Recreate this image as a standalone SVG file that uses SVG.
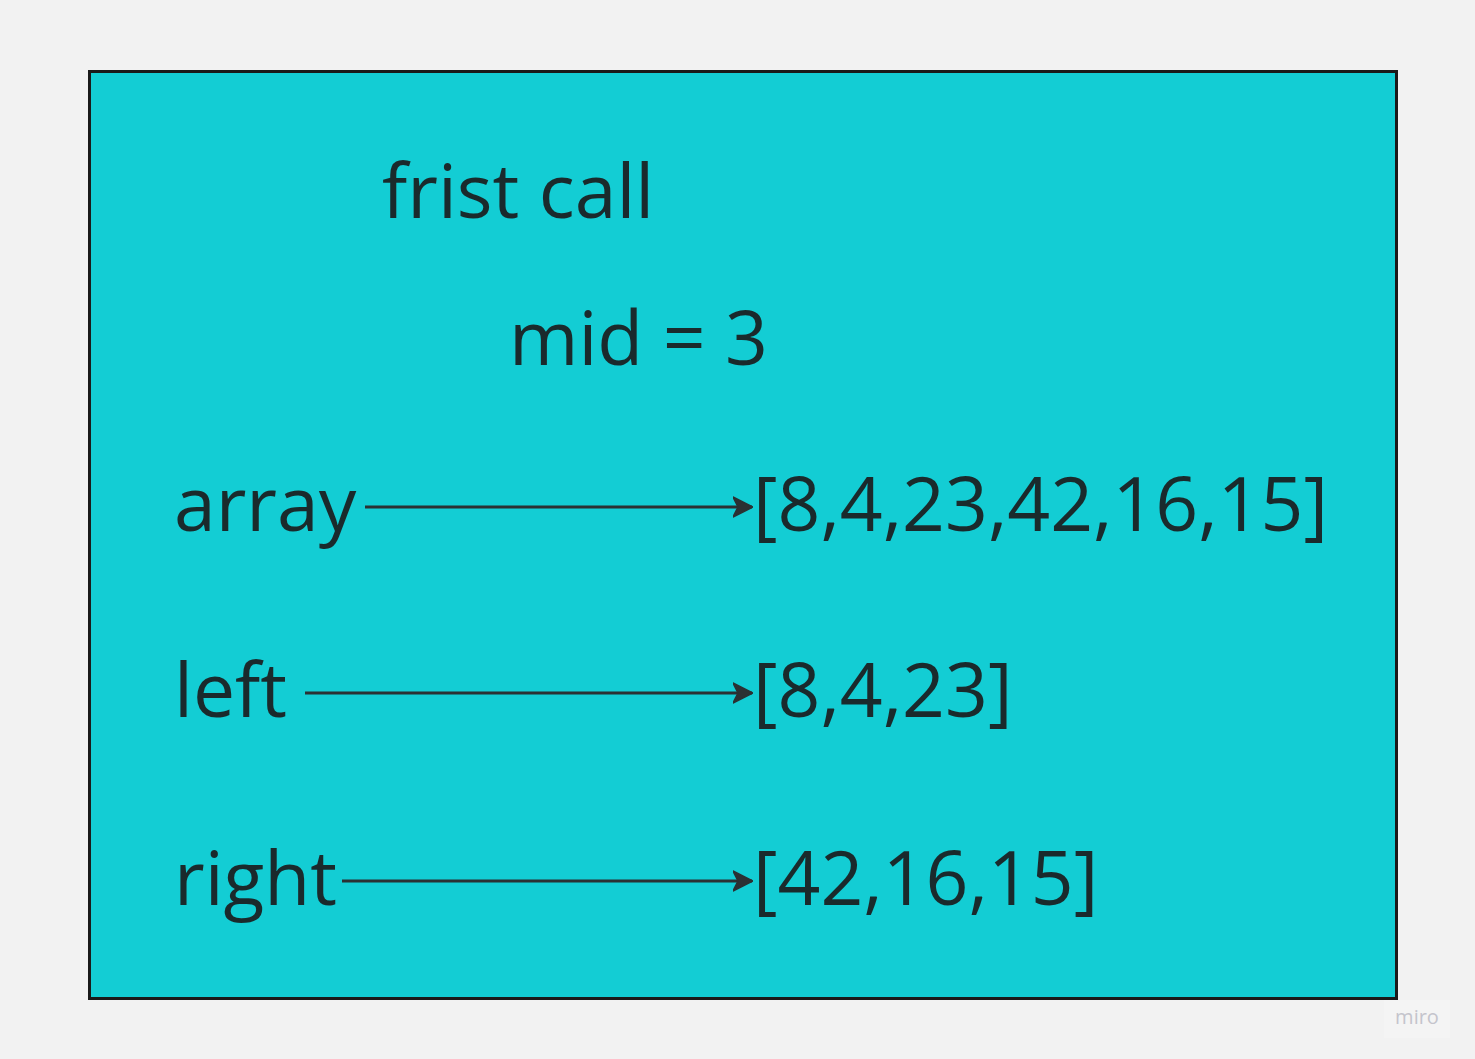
<svg xmlns="http://www.w3.org/2000/svg" width="1475" height="1059" viewBox="0 0 1475 1059">
<style>
.t{font-family:"Open Sans","Noto Sans",sans-serif;font-size:75px;fill:#1a2a2c}
.c{stroke:#2b3133;stroke-width:3;fill:none}
</style>
<defs>
<marker id="ah" markerWidth="20" markerHeight="22" refX="19" refY="11" orient="auto" markerUnits="userSpaceOnUse" viewBox="0 0 20 22">
<path d="M0,1 L20,11 L0,21 L5,11 Z" fill="#2b3133" stroke="#2b3133" stroke-width="1.5" stroke-linejoin="round"/>
</marker>
</defs>
<rect width="1475" height="1059" fill="#f2f2f2"/>
<g id="frame">
<rect x="89.5" y="71.5" width="1307" height="927" fill="#13cdd4" stroke="#1a1a1a" stroke-width="3"/>
</g>
<g id="title"><text class="t" x="382" y="218">frist call</text></g>
<g id="mid"><text class="t" x="509" y="365">mid = 3</text></g>
<g id="array"><text class="t" x="174" y="531">array</text></g>
<g id="arrayval"><text class="t" x="753" y="531">[8,4,23,42,16,15]</text></g>
<g id="left"><text class="t" x="174" y="717">left</text></g>
<g id="leftval"><text class="t" x="753" y="717">[8,4,23]</text></g>
<g id="right"><text class="t" x="174" y="905">right</text></g>
<g id="rightval"><text class="t" x="753" y="905">[42,16,15]</text></g>
<g id="connectors">
<path class="c" d="M365,507 H752" marker-end="url(#ah)"/>
<path class="c" d="M305,693 H752" marker-end="url(#ah)"/>
<path class="c" d="M342,881 H752" marker-end="url(#ah)"/>
</g>
<g id="watermark">
<rect x="1384" y="1000" width="66" height="38" fill="#f4f4f4"/>
<text x="1417" y="1024" text-anchor="middle" font-family="Open Sans, sans-serif" font-size="20" fill="#c4c4cc">miro</text>
</g>
</svg>
